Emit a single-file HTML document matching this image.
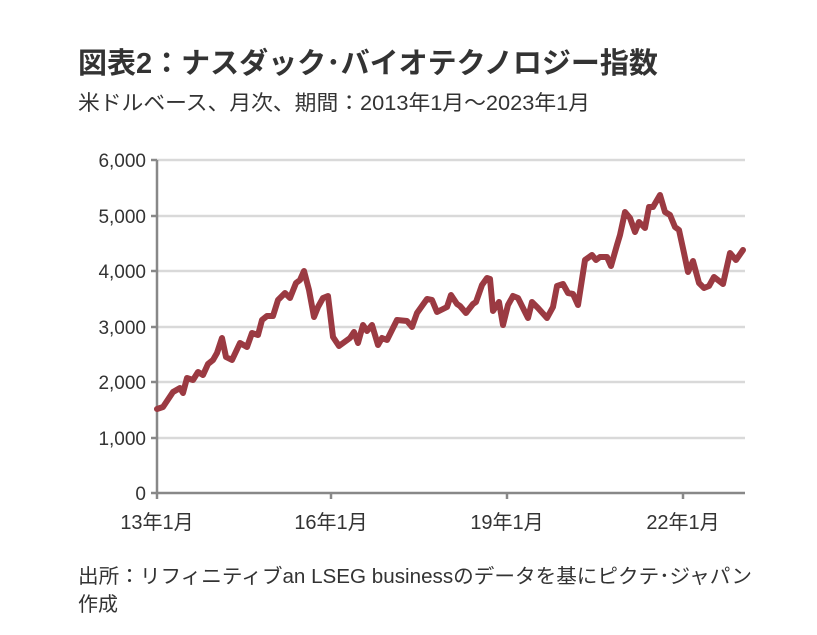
<!DOCTYPE html>
<html><head><meta charset="utf-8"><style>
body{margin:0;background:#fff;width:817px;height:630px;overflow:hidden;font-family:"Liberation Sans","Noto Sans CJK JP",sans-serif;}
</style></head><body>
<svg width="817" height="630" xmlns="http://www.w3.org/2000/svg" font-family="Liberation Sans, Noto Sans CJK JP, sans-serif">
<text x="78" y="73" font-size="29" font-weight="bold" fill="#333">図表2：ナスダック･バイオテクノロジー指数</text>
<text x="78" y="110" font-size="21" fill="#333" textLength="512" lengthAdjust="spacingAndGlyphs">米ドルベース、月次、期間：2013年1月～2023年1月</text>
<g stroke="#d9d9d9" stroke-width="2.5">
<line x1="157" x2="745" y1="160" y2="160"/><line x1="157" x2="745" y1="216" y2="216"/>
<line x1="157" x2="745" y1="271" y2="271"/><line x1="157" x2="745" y1="327" y2="327"/>
<line x1="157" x2="745" y1="382" y2="382"/><line x1="157" x2="745" y1="438" y2="438"/>
</g>
<g stroke="#888" stroke-width="2.5">
<line x1="157" x2="157" y1="160" y2="493"/><line x1="157" x2="745" y1="493" y2="493"/>
<line x1="151" x2="157" y1="160" y2="160"/><line x1="151" x2="157" y1="216" y2="216"/>
<line x1="151" x2="157" y1="271" y2="271"/><line x1="151" x2="157" y1="327" y2="327"/>
<line x1="151" x2="157" y1="382" y2="382"/><line x1="151" x2="157" y1="438" y2="438"/>
<line x1="151" x2="157" y1="493" y2="493"/>
<line x1="157" x2="157" y1="493" y2="499"/><line x1="331" x2="331" y1="493" y2="499"/>
<line x1="507" x2="507" y1="493" y2="499"/><line x1="683" x2="683" y1="493" y2="499"/>
</g>
<g font-size="19" fill="#333" text-anchor="end">
<text x="146" y="167">6,000</text><text x="146" y="223">5,000</text><text x="146" y="278">4,000</text>
<text x="146" y="334">3,000</text><text x="146" y="389">2,000</text><text x="146" y="445">1,000</text>
<text x="146" y="500">0</text>
</g>
<g font-size="20" fill="#333" text-anchor="middle">
<text x="157" y="529">13年1月</text><text x="331" y="529">16年1月</text>
<text x="507" y="529">19年1月</text><text x="683" y="529">22年1月</text>
</g>
<polyline fill="none" stroke="#9b3a42" stroke-width="6" stroke-linejoin="round" stroke-linecap="round" points="157,409 163,407 173,392 180,388 183,393 187,378 193,380 198,372 203,375 208,364 213,360 217,353 222,338 226,357 232,360 240,343 247,347 252,333 258,335 262,320 267,316 273,316 278,300 285,293 290,298 296,283 300,280 304,271 309,290 314,317 318,307 323,298 328,296 333,337 339,346 350,338 354,332 358,343 363,325 367,331 372,325 378,345 382,338 387,340 397,320 407,321 412,327 417,313 427,299 432,300 437,312 443,309 447,307 451,295 457,304 460,306 466,313 473,304 476,302 482,285 487,278 490,279 493,311 499,302 503,325 508,305 513,296 518,298 523,308 528,318 532,302 538,308 547,318 553,307 557,286 563,284 568,293 573,294 578,305 585,260 592,255 596,260 600,257 607,257 611,266 617,245 620,235 625,212 630,218 635,232 639,222 645,228 649,207 653,207 660,195 665,212 670,215 675,227 679,230 684,253 688,272 693,261 699,283 704,288 709,286 714,277 723,284 730,253 736,260 743,250"/>
<text x="78" y="583" font-size="20" fill="#333" textLength="674" lengthAdjust="spacingAndGlyphs">出所：リフィニティブan LSEG businessのデータを基にピクテ･ジャパン</text>
<text x="78" y="611" font-size="20" fill="#333">作成</text>
</svg>
</body></html>
